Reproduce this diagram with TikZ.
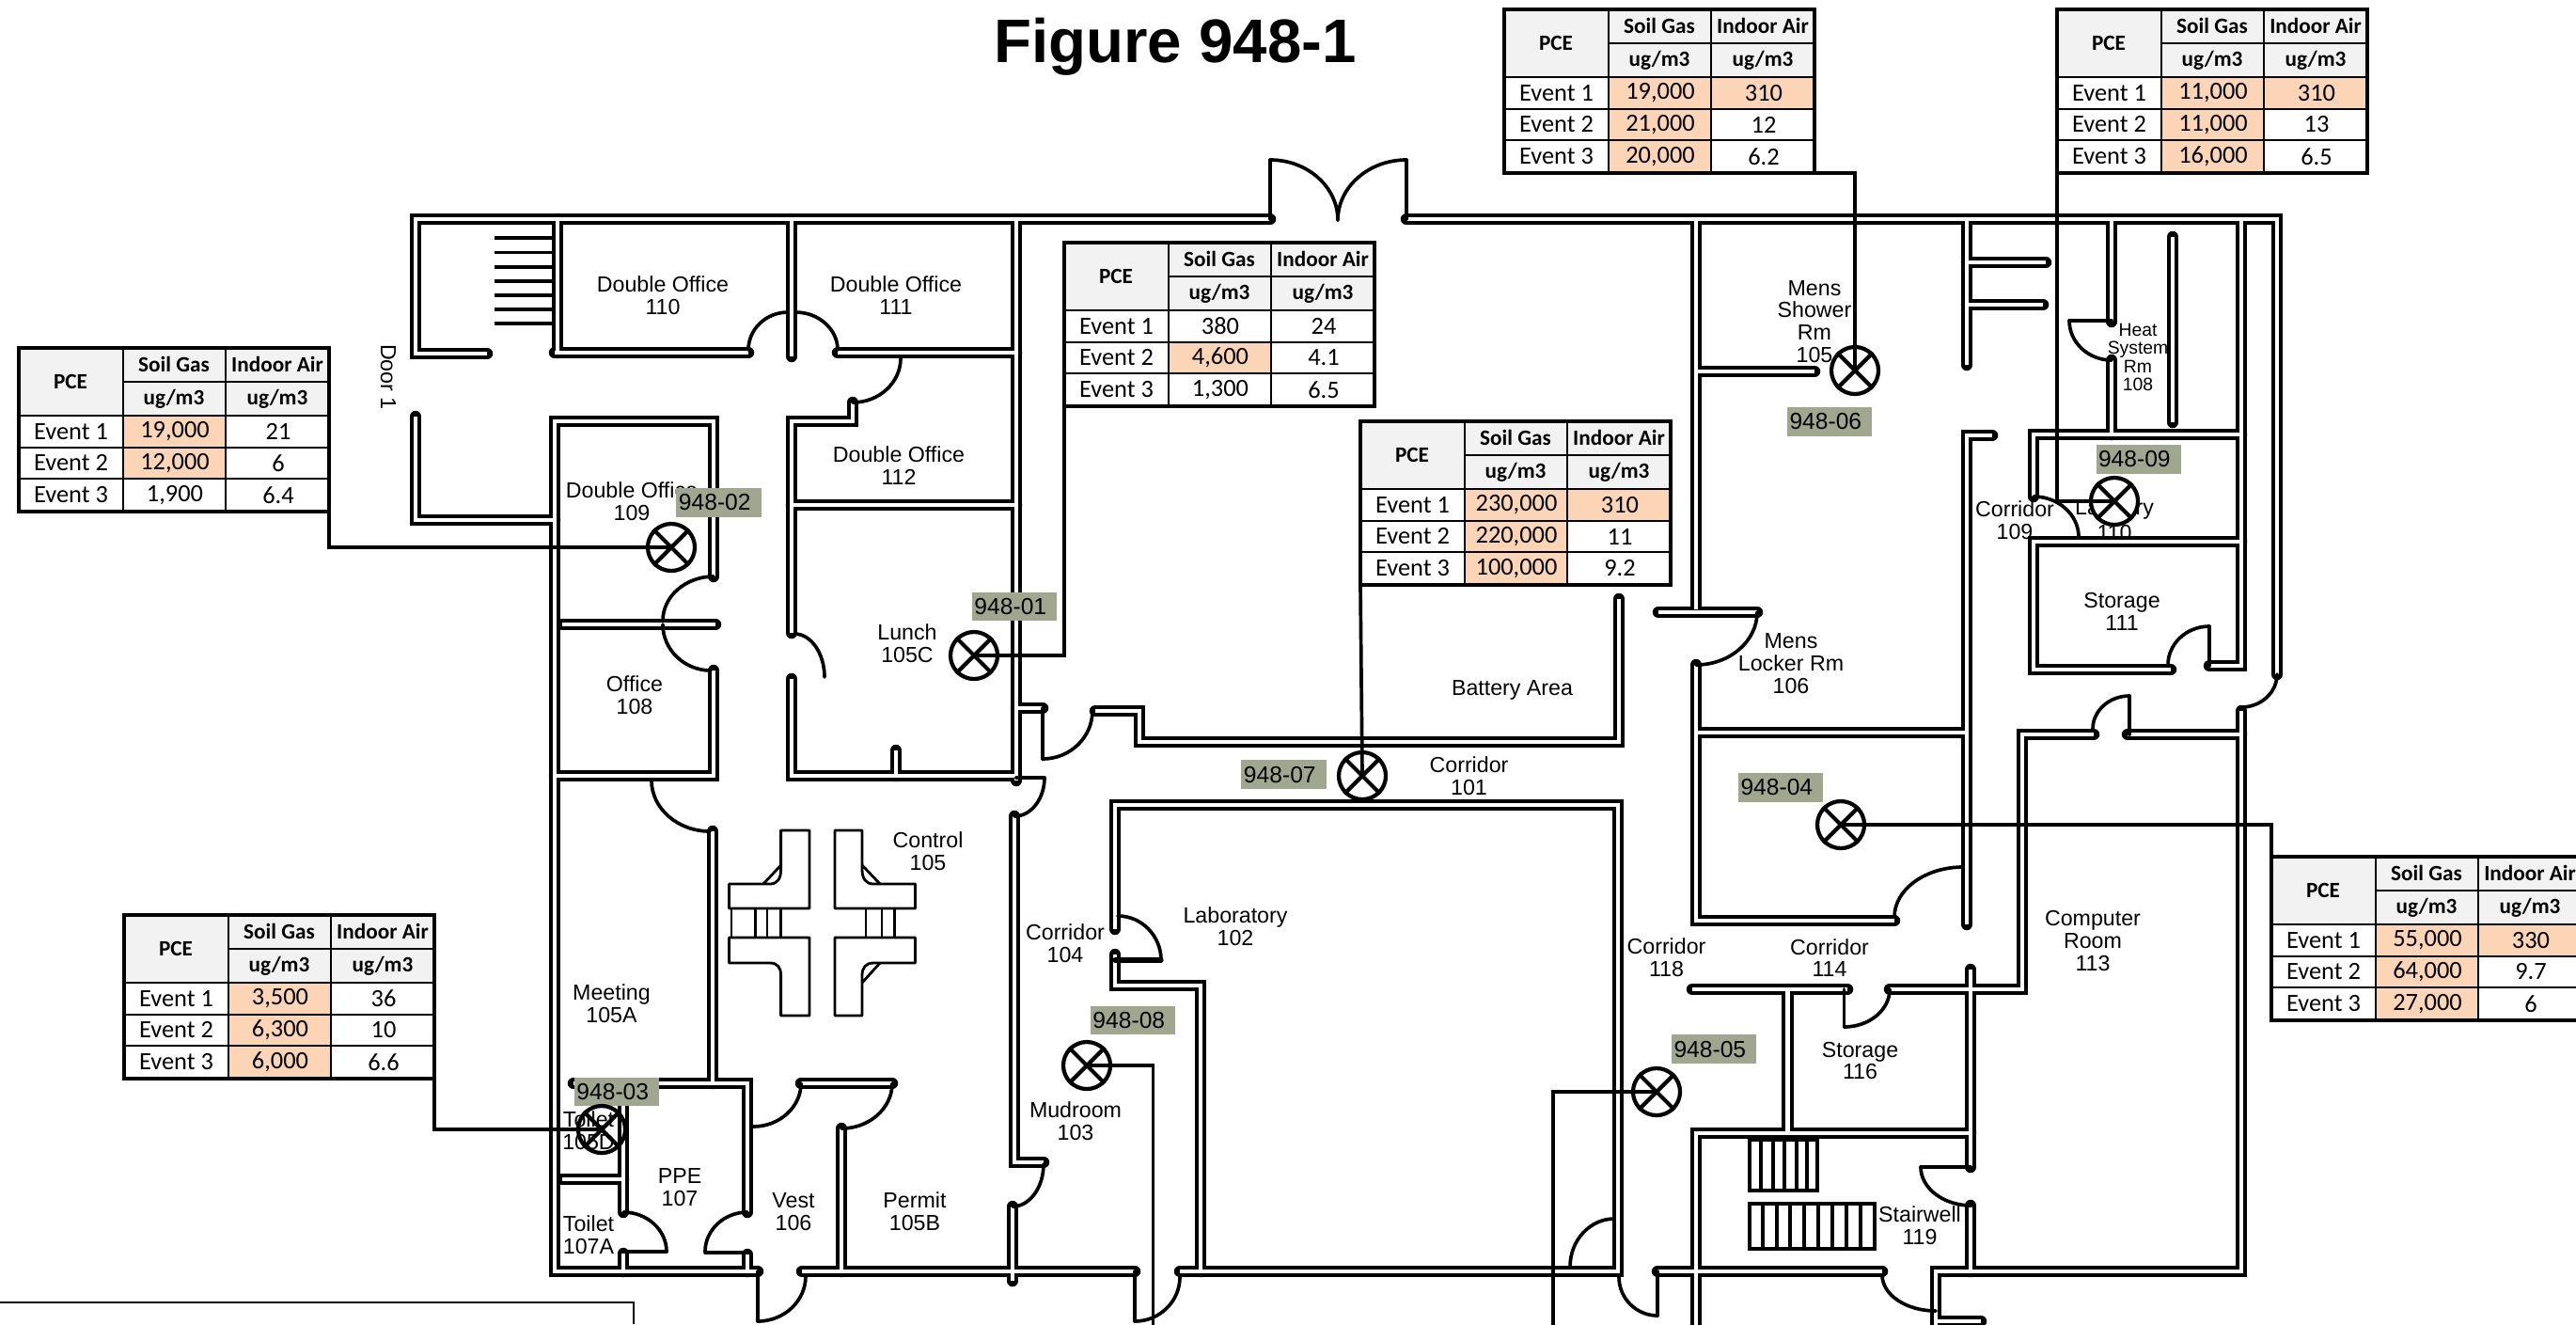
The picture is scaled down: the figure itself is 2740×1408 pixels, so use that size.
\documentclass[tikz,border=0pt]{standalone}
\usepackage{fontspec}
\setmainfont{Liberation Sans}
\newfontfamily\carlito{Carlito}
\usetikzlibrary{calc}
\definecolor{hot}{HTML}{FBD5B5}
\definecolor{hdr}{HTML}{F2F2F2}
\definecolor{tagc}{HTML}{A1A78F}
\tikzset{
  wallblack/.style={draw=black,line width=3.55pt,line cap=round,line join=miter},
  wallwhite/.style={draw=white,line width=1.22pt,line cap=butt,line join=miter},
  door/.style={draw=black,line width=1.05pt,line cap=round},
  stairline/.style={draw=black,line width=0.9pt},
  desk/.style={draw=black,line width=0.8pt,line join=round},
  room/.style={font=\fontsize{6.6}{6.8}\selectfont,align=center,inner sep=0pt},
  smallroom/.style={font=\fontsize{5.5}{5.5}\selectfont,align=center,inner sep=0pt},
  conn/.style={draw=black,line width=1.05pt},
  sampmark/.style={circle,draw=black,line width=1.2pt,minimum size=0.5cm,inner sep=0pt},
  tagbox/.style={fill=tagc,text=black,font=\fontsize{7}{8}\selectfont,text width=0.85cm,minimum height=0.305cm,inner sep=0.025cm,align=left},
  gridline/.style={draw=black,line width=0.72pt},
  tframe/.style={fill=white,minimum width=3.3cm,minimum height=1.74cm,inner sep=0pt,outer sep=0pt,anchor=north west},
  hcell/.style={font=\carlito\bfseries\fontsize{6.6}{7}\selectfont,inner sep=0pt},
  vcell/.style={font=\carlito\fontsize{7.5}{8}\selectfont,inner sep=0pt},
}
\newcommand\wallpaths{
 (518,376)--(442,376)--(442,233)--(1351,233)
 (1496,233)--(2422,233)--(2422,717)
 (442,443)--(442,553)--(590,553)
 (593,233)--(593,375)
 (590,375)--(796,375)
 (842,233)--(842,379)
 (891,375)--(1081,375)
 (1081,233)--(1081,830)
 (842,537)--(1081,537)
 (907,428)--(907,448)--(842,448)--(842,673)
 (842,722)--(842,825)--(1081,825)
 (953,798)--(953,825)
 (759,613)--(759,448)--(590,448)--(590,1352)--(806,1352)
 (598,664)--(761,664)
 (759,713)--(759,825)--(590,825)
 (758,884)--(758,1152)
 (610,1152)--(795,1152)--(795,1289)
 (795,1334)--(795,1352)
 (663,1176)--(663,1289)
 (663,1333)--(663,1352)
 (598,1254)--(663,1254)
 (852,1152)--(949,1152)
 (895,1200)--(895,1352)
 (853,1352)--(1207,1352)
 (1079,868)--(1079,1236)--(1110,1236)
 (1077,1283)--(1077,1362)
 (1081,753)--(1109,753)
 (1165,756)--(1212,756)--(1212,789)--(1722,789)--(1722,637)
 (1186,988)--(1186,856)--(1721,856)--(1721,1352)--(1255,1352)
 (1186,1015)--(1186,1048)--(1277,1048)--(1277,1352)
 (1763,1352)--(2002,1352)
 (1804,233)--(1804,648)
 (1804,707)--(1804,979)--(2015,979)
 (1804,395)--(1930,395)
 (2092,233)--(2092,388)
 (2092,279)--(2176,279)
 (2092,324)--(2173,324)
 (2119,463)--(2092,463)--(2092,983)
 (1804,779)--(2091,779)
 (1764,651)--(1869,651)
 (2246,233)--(2246,342)
 (2246,383)--(2246,462)
 (2311,252)--(2311,449)
 (2384,233)--(2384,708)--(2350,708)
 (2163,528)--(2163,462)--(2384,462)
 (2384,576)--(2163,576)--(2163,712)--(2309,712)
 (2227,781)--(2151,781)--(2151,1052)--(2010,1052)
 (2263,781)--(2384,781)
 (2384,756)--(2384,1352)--(2059,1352)--(2059,1415)
 (2059,1405)--(2107,1405)
 (2096,1031)--(2096,1241)
 (2096,1282)--(2096,1352)
 (1800,1052)--(1965,1052)
 (1901.5,1052)--(1901.5,1205)
 (2096,1205)--(1804,1205)--(1804,1415)
}
\newcommand\darc[3]{\draw[door] #1 .. controls ($#1!0.55!#2$) and ($#3!0.55!#2$) .. #3;}
\newcommand\pcerow[6]{%
  \fill[#5] (111,#1) rectangle (220,#2);
  \node[vcell] (\curtab e#3) at (55.5,{(#1+#2)/2}) {Event #3};
  \node[vcell] (\curtab s#3) at (166,{(#1+#2)/2}) {#4};
  #6
}
\newcommand\aircell[5]{%
  \fill[#5] (220,#1) rectangle (330,#2);
  \node[vcell] (\curtab a#3) at (276,{(#1+#2)/2}) {#4};
}
\newcommand\pcetable[4]{%
 \def\curtab{#1}
 \begin{scope}[shift={(#2,#3)}]
  \node[tframe] (#1) at (0,0) {};
  \fill[hdr] (0,0) rectangle (330,72);
  \node[hcell] (#1h) at (55,36) {PCE};
  \node[hcell] (#1g) at (165,17) {Soil Gas};
  \node[hcell] (#1i) at (275,17) {Indoor Air};
  \node[hcell] (#1j) at (165,54) {ug/m3};
  \node[hcell] (#1k) at (275,54) {ug/m3};
  #4
  \draw[gridline] (111,0)--(111,174) (220,0)--(220,174)
     (111,36)--(330,36) (0,72)--(330,72) (0,106)--(330,106) (0,139)--(330,139);
  \draw[draw=black,line width=1.3pt] (0,0) rectangle (330,174);
 \end{scope}}
\newcommand\tabrows[6]{%
  \pcerow{72}{106}{1}#1{\aircell{72}{106}{1}#2}
  \pcerow{106}{139}{2}#3{\aircell{106}{139}{2}#4}
  \pcerow{139}{174}{3}#5{\aircell{139}{174}{3}#6}
}
\begin{document}
\begin{tikzpicture}[x=0.01cm,y=-0.01cm]
\useasboundingbox (0,0) rectangle (2740,1408);
\clip (0,0) rectangle (2740,1408);
\fill[white] (0,0) rectangle (2740,1408);

% title
\node[font=\bfseries\fontsize{18.6}{20}\selectfont,anchor=base,inner sep=0pt] (title) at (1250,66) {Figure 948-1};

% room labels hidden in part by the walls
\node[room] (laundry) at (2249,541) {Laundry};
\node[room] (laundrynum) at (2249,566) {110};

% walls
\draw[wallblack] \wallpaths;
\draw[wallwhite] \wallpaths;

% door jambs and panels
\draw[door]
 (1351,233)--(1351,170) (1496,233)--(1496,170)
 (1109,753)--(1109,807) (1081,827)--(1111,827)
 (750,1332)--(795,1332) (663,1331)--(709,1331)
 (806,1352)--(806,1405) (1207,1352)--(1207,1405)
 (1763,1352)--(1763,1399) (1961.5,1052)--(1961.5,1092)
 (2043,1241)--(2096,1241) (2201,341)--(2246,341)
 (2350,666)--(2350,708) (2265,740)--(2265,781);
\draw[door,line width=1.5pt] (1186,1021)--(1235,1021);
\darc{(1351,170)}{(1423,170)}{(1423,234)}
\darc{(1496,170)}{(1423,170)}{(1423,234)}
\darc{(796,372)}{(796,332)}{(838,332)}
\darc{(891,372)}{(891,332)}{(846,332)}
\darc{(958,381)}{(958,428)}{(907,428)}
\darc{(845,674)}{(877,674)}{(877,720)}
\darc{(759,613)}{(705,613)}{(705,660)}
\darc{(705,664)}{(705,713)}{(756,713)}
\darc{(693,830)}{(693,884)}{(755,884)}
\darc{(1111,827)}{(1111,868)}{(1079,868)}
\darc{(1110,1238)}{(1110,1283)}{(1077,1283)}
\darc{(1162,756)}{(1162,807)}{(1109,807)}
\darc{(1189,974)}{(1235,974)}{(1235,1021)}
\darc{(852,1152)}{(852,1198)}{(801,1198)}
\darc{(949,1152)}{(949,1200)}{(895,1200)}
\darc{(795,1289)}{(750,1289)}{(750,1331)}
\darc{(663,1289)}{(709,1289)}{(709,1331)}
\darc{(857,1357)}{(857,1405)}{(806,1405)}
\darc{(1255,1358)}{(1255,1405)}{(1207,1405)}
\darc{(1670,1347)}{(1670,1296)}{(1717,1296)}
\darc{(1722,1358)}{(1722,1399)}{(1763,1399)}
\darc{(2002,1356)}{(2002,1394)}{(2059,1394)}
\darc{(2010,1052)}{(2010,1092)}{(1961.5,1092)}
\darc{(2043,1241)}{(2043,1282)}{(2097,1282)}
\darc{(2015,975)}{(2015,922)}{(2088,922)}
\darc{(1869,651)}{(1869,707)}{(1804,707)}
\darc{(2201,341)}{(2201,383)}{(2246,383)}
\darc{(2163,528)}{(2211,528)}{(2211,571)}
\darc{(2306,707)}{(2306,666)}{(2350,666)}
\darc{(2226,775)}{(2226,740)}{(2265,740)}
\darc{(2422,717)}{(2422,752)}{(2384,752)}

% stairs
\foreach \yy in {253,268.5,284,299,314,329,344} \draw[stairline] (526,\yy)--(588,\yy);
\draw[stairline] (1861,1212) rectangle (1933,1266);
\foreach \xx in {1873,1886,1898,1911,1922} \draw[stairline] (\xx,1212)--(\xx,1266);
\draw[stairline] (1861,1280) rectangle (1994,1328);
\foreach \xx in {1875,1890,1904,1919,1934,1949,1964,1979} \draw[stairline] (\xx,1280)--(\xx,1328);

% control desks
\draw[desk] (830.6,883)--(861,883)--(861,966)--(775.5,966)--(775.5,940)--(819,940) .. controls (827,940) and (830.6,934) .. (830.6,925)--cycle;
\draw[desk] (830.6,920)--(812,940);
\draw[desk] (888,883)--(917,883)--(917,925) .. controls (917,934) and (921,940) .. (929,940)--(973.5,940)--(973.5,966)--(888,966)--cycle;
\draw[desk] (917,920)--(936,940);
\draw[desk] (775.5,997)--(861,997)--(861,1080)--(830.6,1080)--(830.6,1037) .. controls (830.6,1029) and (827,1024) .. (819,1024)--(775.5,1024)--cycle;
\draw[desk] (888,997)--(973.5,997)--(973.5,1024)--(929,1024) .. controls (921,1024) and (917,1029) .. (917,1037)--(917,1080)--(888,1080)--cycle;
\draw[desk] (917,1045)--(936,1024);
\foreach \xx in {778,803.6,816,830.6,921,938,951.5} \draw[desk] (\xx,966)--(\xx,997);

% frame at the bottom left
\draw[draw=black,line width=0.6pt] (0,1385)--(674,1385)--(674,1408);

% room labels
\node[room] (r110) at (705,314) {Double Office\\110};
\node[room] (r111) at (953,314) {Double Office\\111};
\node[room] (r112) at (956,495) {Double Office\\112};
\node[room] (r109) at (672,533) {Double Office\\109};
\node[room] (r108) at (675,739) {Office\\108};
\node[room] (r105c) at (965,684.5) {Lunch\\105C};
\node[room] (rbat) at (1608.5,734) {Battery Area};
\node[room] (r101) at (1562.5,825.5) {Corridor\\101};
\node[room] (r105s) at (1930,342) {Mens\\Shower\\Rm\\105};
\node[smallroom] (r108h) at (2274,380) {Heat\\System\\Rm\\108};
\node[room] (rc109) at (2143,553) {Corridor\\109};
\node[room] (r111s) at (2257,650) {Storage\\111};
\node[room] (r106) at (1905,705.6) {Mens\\Locker Rm\\106};
\node[room] (r105) at (987,905) {Control\\105};
\node[room] (r104) at (1133,1003) {Corridor\\104};
\node[room] (r102) at (1314,985) {Laboratory\\102};
\node[room] (r118) at (1772.5,1018) {Corridor\\118};
\node[room] (r114) at (1946,1018.6) {Corridor\\114};
\node[room] (r113) at (2226,1000.5) {Computer\\Room\\113};
\node[room] (r116) at (1978.5,1128) {Storage\\116};
\node[room] (r119) at (2042,1303) {Stairwell\\119};
\node[room] (r105a) at (650.5,1067.5) {Meeting\\105A};
\node[room] (r105d) at (626,1202.5) {Toilet\\105D};
\node[room] (r107a) at (626,1313.5) {Toilet\\107A};
\node[room] (r107) at (723,1262.6) {PPE\\107};
\node[room] (r106v) at (844,1288.6) {Vest\\106};
\node[room] (r105b) at (973,1288.6) {Permit\\105B};
\node[room] (r103) at (1144,1192.5) {Mudroom\\103};
\node[room,rotate=-90] (door1) at (413,401) {Door 1};

% tables
\pcetable{t06}{1600}{10}{\tabrows{{19,000}{hot}}{{310}{hot}}{{21,000}{hot}}{{12}{white}}{{20,000}{hot}}{{6.2}{white}}}
\pcetable{t09}{2188}{10}{\tabrows{{11,000}{hot}}{{310}{hot}}{{11,000}{hot}}{{13}{white}}{{16,000}{hot}}{{6.5}{white}}}
\pcetable{t01}{1132}{258}{\tabrows{{380}{white}}{{24}{white}}{{4,600}{hot}}{{4.1}{white}}{{1,300}{white}}{{6.5}{white}}}
\pcetable{t07}{1447}{448}{\tabrows{{230,000}{hot}}{{310}{hot}}{{220,000}{hot}}{{11}{white}}{{100,000}{hot}}{{9.2}{white}}}
\pcetable{t02}{20}{370}{\tabrows{{19,000}{hot}}{{21}{white}}{{12,000}{hot}}{{6}{white}}{{1,900}{white}}{{6.4}{white}}}
\pcetable{t03}{132}{973}{\tabrows{{3,500}{hot}}{{36}{white}}{{6,300}{hot}}{{10}{white}}{{6,000}{hot}}{{6.6}{white}}}
\pcetable{t04}{2416}{911}{\tabrows{{55,000}{hot}}{{330}{hot}}{{64,000}{hot}}{{9.7}{white}}{{27,000}{hot}}{{6}{white}}}

% tags
\node[tagbox] (g02) at (764.5,534.5) {948-02};
\node[tagbox] (g01) at (1079,645) {948-01};
\node[tagbox] (g07) at (1365.5,823.5) {948-07};
\node[tagbox] (g06) at (1946,448.5) {948-06};
\node[tagbox] (g09) at (2274.5,488.5) {948-09};
\node[tagbox] (g04) at (1894,837.5) {948-04};
\node[tagbox] (g05) at (1823,1115.5) {948-05};
\node[tagbox] (g08) at (1205,1085) {948-08};
\node[tagbox] (g03) at (656,1161) {948-03};

% sample points
\node[sampmark] (m02) at (714,582) {};
\node[sampmark] (m01) at (1036,697) {};
\node[sampmark] (m07) at (1449,825) {};
\node[sampmark] (m06) at (1973,394) {};
\node[sampmark,fill=white] (m09) at (2249,533) {};
\node[sampmark] (m04) at (1958,877) {};
\node[sampmark] (m05) at (1762,1161) {};
\node[sampmark] (m08) at (1156,1133) {};
\node[sampmark] (m03) at (640,1201) {};
\foreach \mm in {m01,m02,m03,m04,m05,m06,m07,m08,m09}
  \draw[draw=black,line width=1.2pt] (\mm.north west)--(\mm.south east) (\mm.north east)--(\mm.south west);

% connectors
\coordinate (end08) at (1226.5,1420);
\coordinate (end05) at (1652,1420);
\draw[conn] (t02.south east) |- (m02.center);
\draw[conn] (t01.south west) |- (m01.center);
\draw[conn] (t07.south west) -- (m07.center);
\draw[conn] (t06.south east) -| (m06.center);
\draw[conn] (t09.south west) |- (m09.center);
\draw[conn] (t04.north west) |- (m04.center);
\draw[conn] (t03.south east) |- (m03.center);
\draw[conn] (m08.center) -| (end08);
\draw[conn] (m05.center) -| (end05);
\end{tikzpicture}
\end{document}
